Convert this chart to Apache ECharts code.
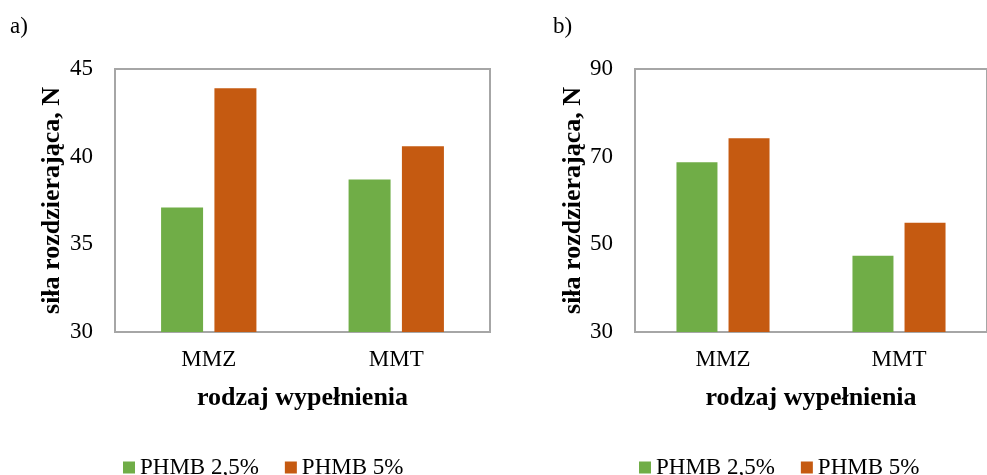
<!DOCTYPE html>
<html>
<head>
<meta charset="utf-8">
<script src="https://cdn.jsdelivr.net/npm/echarts@6/dist/echarts.min.js"></script>
<style>
html,body{margin:0;padding:0;background:#fff;}
#c{width:987px;height:475px;}
</style>
</head>
<body>
<div id="c"></div>
<script>
var categories = ['MMZ', 'MMT'];
var seriesNames = ['PHMB 2,5%', 'PHMB 5%'];
var aPhmb25 = [37.1, 38.7];
var aPhmb5 = [43.9, 40.6];
var bPhmb25 = [68.7, 47.4];
var bPhmb5 = [74.2, 54.9];
var aTicks = {min: 30, max: 45, interval: 5};
var bTicks = {min: 30, max: 90, interval: 20};
var panelLabels = ['a)', 'b)'];
var xTitle = 'rodzaj wypełnienia';
var yTitle = 'siła rozdzierająca, N';

var FONT = 'Liberation Serif';
var GREEN = '#70AD47', ORANGE = '#C55A11', GRID = '#a6a6a6';

function xAxis(idx) {
  return {
    type: 'category', gridIndex: idx, data: categories,
    axisLine: {show: true, lineStyle: {color: GRID, width: 2}},
    axisTick: {show: false},
    axisLabel: {fontFamily: FONT, fontSize: 23, color: '#000', margin: 16},
    name: xTitle, nameLocation: 'middle', nameGap: 53,
    nameTextStyle: {fontFamily: FONT, fontSize: 26, fontWeight: 'bold', color: '#000'}
  };
}
function yAxis(idx, t, gap) {
  return {
    type: 'value', gridIndex: idx, min: t.min, max: t.max, interval: t.interval,
    axisLine: {show: false}, axisTick: {show: false}, splitLine: {show: false},
    axisLabel: {fontFamily: FONT, fontSize: 23, color: '#000', margin: 22},
    name: yTitle, nameLocation: 'middle', nameGap: gap, nameRotate: 90,
    nameTextStyle: {fontFamily: FONT, fontSize: 26, fontWeight: 'bold', color: '#000'}
  };
}
function bar(name, data, idx, color, w) {
  return {
    type: 'bar', name: name, data: data, xAxisIndex: idx, yAxisIndex: idx,
    barWidth: w, barGap: '27%', itemStyle: {color: color}
  };
}
function legend(left) {
  return {
    data: seriesNames, left: left, top: 451, itemWidth: 12, itemHeight: 12,
    itemGap: 26, icon: 'rect', selectedMode: false,
    textStyle: {fontFamily: FONT, fontSize: 23, color: '#000'}
  };
}

var chart = echarts.init(document.getElementById('c'));
chart.setOption({
  animation: false,
  backgroundColor: '#fff',
  graphic: [
    {type: 'text', left: 10, top: 15, style: {text: panelLabels[0], font: '23px "Liberation Serif"', fill: '#000'}},
    {type: 'text', left: 553, top: 15, style: {text: panelLabels[1], font: '23px "Liberation Serif"', fill: '#000'}}
  ],
  grid: [
    {left: 115, top: 69, width: 375, height: 263, show: true, borderColor: GRID, borderWidth: 2, backgroundColor: 'transparent'},
    {left: 635, top: 69, width: 366, height: 263, show: true, borderColor: GRID, borderWidth: 2, backgroundColor: 'transparent'}
  ],
  xAxis: [xAxis(0), xAxis(1)],
  yAxis: [yAxis(0, aTicks, 50), yAxis(1, bTicks, 49)],
  legend: [legend(118), legend(634)],
  series: [
    bar(seriesNames[0], aPhmb25, 0, GREEN, 42),
    bar(seriesNames[1], aPhmb5, 0, ORANGE, 42),
    bar(seriesNames[0], bPhmb25, 1, GREEN, 41),
    bar(seriesNames[1], bPhmb5, 1, ORANGE, 41)
  ]
});
</script>
</body>
</html>
